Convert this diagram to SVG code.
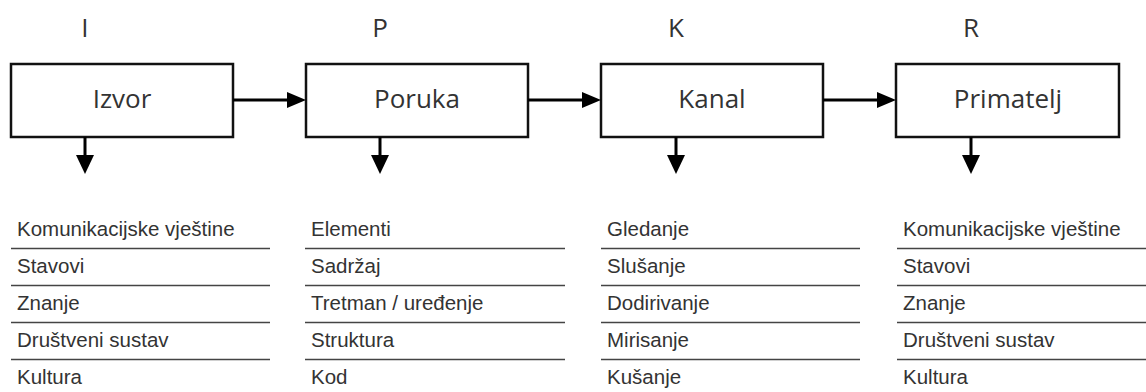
<svg xmlns="http://www.w3.org/2000/svg" width="1146" height="392" viewBox="0 0 1146 392">
<defs>
<style>
.box{fill:#fff;stroke:#111;stroke-width:2.5}
.ttl{font-family:"Open Sans","DejaVu Sans",sans-serif;font-size:26px;fill:#333;text-anchor:middle}
.lst{font-family:"Liberation Sans",Arial,sans-serif;font-size:20.5px;fill:#333}
.sep{stroke:#444;stroke-width:1.6}
.arr{stroke:#000;stroke-width:3;fill:none}
.head{fill:#000}
</style>
</defs>
<rect width="1146" height="392" fill="#fff"/>
<g id="node-izvor">
<text class="ttl" x="85" y="37">I</text>
<rect class="box" x="11" y="64" width="222" height="73"/>
<text class="ttl" x="122" y="108">Izvor</text>
</g>
<g id="node-poruka">
<text class="ttl" x="380" y="37">P</text>
<rect class="box" x="306" y="64" width="222" height="73"/>
<text class="ttl" x="417" y="108">Poruka</text>
</g>
<g id="node-kanal">
<text class="ttl" x="676" y="37">K</text>
<rect class="box" x="601" y="64" width="222" height="73"/>
<text class="ttl" x="712" y="108">Kanal</text>
</g>
<g id="node-primatelj">
<text class="ttl" x="971" y="37">R</text>
<rect class="box" x="896" y="64" width="223" height="73"/>
<text class="ttl" x="1008" y="108">Primatelj</text>
</g>
<g id="connectors">
<line class="arr" x1="233" y1="100" x2="290" y2="100"/>
<polygon class="head" points="287,92 306,100 287,108"/>
<line class="arr" x1="528" y1="100" x2="585" y2="100"/>
<polygon class="head" points="582,92 601,100 582,108"/>
<line class="arr" x1="823" y1="100" x2="880" y2="100"/>
<polygon class="head" points="877,92 896,100 877,108"/>
<line class="arr" x1="85" y1="137" x2="85" y2="158"/>
<polygon class="head" points="76,155 85,174 94,155"/>
<line class="arr" x1="380" y1="137" x2="380" y2="158"/>
<polygon class="head" points="371,155 380,174 389,155"/>
<line class="arr" x1="676" y1="137" x2="676" y2="158"/>
<polygon class="head" points="667,155 676,174 685,155"/>
<line class="arr" x1="971" y1="137" x2="971" y2="158"/>
<polygon class="head" points="962,155 971,174 980,155"/>
</g>
<g id="list-izvor">
<text class="lst" x="17" y="235.5">Komunikacijske vještine</text>
<text class="lst" x="17" y="273">Stavovi</text>
<text class="lst" x="17" y="310">Znanje</text>
<text class="lst" x="17" y="347">Društveni sustav</text>
<text class="lst" x="17" y="384">Kultura</text>
<line class="sep" x1="11" y1="248.5" x2="270" y2="248.5"/>
<line class="sep" x1="11" y1="285.5" x2="270" y2="285.5"/>
<line class="sep" x1="11" y1="322.5" x2="270" y2="322.5"/>
<line class="sep" x1="11" y1="359.5" x2="270" y2="359.5"/>
</g>
<g id="list-poruka">
<text class="lst" x="311" y="235.5">Elementi</text>
<text class="lst" x="311" y="273">Sadržaj</text>
<text class="lst" x="311" y="310">Tretman / uređenje</text>
<text class="lst" x="311" y="347">Struktura</text>
<text class="lst" x="311" y="384">Kod</text>
<line class="sep" x1="305" y1="248.5" x2="565" y2="248.5"/>
<line class="sep" x1="305" y1="285.5" x2="565" y2="285.5"/>
<line class="sep" x1="305" y1="322.5" x2="565" y2="322.5"/>
<line class="sep" x1="305" y1="359.5" x2="565" y2="359.5"/>
</g>
<g id="list-kanal">
<text class="lst" x="607" y="235.5">Gledanje</text>
<text class="lst" x="607" y="273">Slušanje</text>
<text class="lst" x="607" y="310">Dodirivanje</text>
<text class="lst" x="607" y="347">Mirisanje</text>
<text class="lst" x="607" y="384">Kušanje</text>
<line class="sep" x1="601" y1="248.5" x2="860" y2="248.5"/>
<line class="sep" x1="601" y1="285.5" x2="860" y2="285.5"/>
<line class="sep" x1="601" y1="322.5" x2="860" y2="322.5"/>
<line class="sep" x1="601" y1="359.5" x2="860" y2="359.5"/>
</g>
<g id="list-primatelj">
<text class="lst" x="903" y="235.5">Komunikacijske vještine</text>
<text class="lst" x="903" y="273">Stavovi</text>
<text class="lst" x="903" y="310">Znanje</text>
<text class="lst" x="903" y="347">Društveni sustav</text>
<text class="lst" x="903" y="384">Kultura</text>
<line class="sep" x1="897" y1="248.5" x2="1146" y2="248.5"/>
<line class="sep" x1="897" y1="285.5" x2="1146" y2="285.5"/>
<line class="sep" x1="897" y1="322.5" x2="1146" y2="322.5"/>
<line class="sep" x1="897" y1="359.5" x2="1146" y2="359.5"/>
</g>
</svg>
